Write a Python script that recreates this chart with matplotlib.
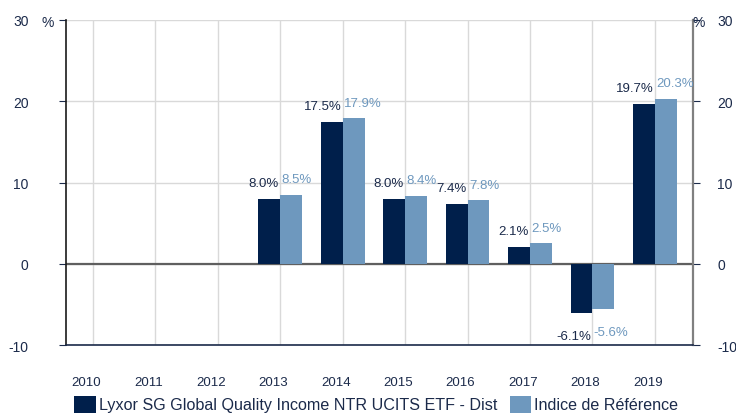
import matplotlib
matplotlib.use("Agg")
import matplotlib.pyplot as plt
from matplotlib.patches import Rectangle
from matplotlib.transforms import ScaledTranslation
import numpy as np

plt.rcParams['font.family'] = ['Liberation Sans', 'DejaVu Sans']

years = ['2010', '2011', '2012', '2013', '2014', '2015', '2016', '2017', '2018', '2019']
fund = [None, None, None, 8.0, 17.5, 8.0, 7.4, 2.1, -6.1, 19.7]
index = [None, None, None, 8.5, 17.9, 8.4, 7.8, 2.5, -5.6, 20.3]
series_names = ['Lyxor SG Global Quality Income NTR UCITS ETF - Dist', 'Indice de Référence']
yticks = [-10, 0, 10, 20, 30]

dark = '#001F4B'
light = '#6E98BE'
txt = '#1B2A4A'

W, H = 736, 414
fig = plt.figure(figsize=(W / 100, H / 100), dpi=100)
left, right, top, bottom = 66, 693, 21, 346
ax = fig.add_axes([left / W, 1 - bottom / H, (right - left) / W, (bottom - top) / H])

x = np.arange(len(years))
bw = 0.35
for i, (f, r) in enumerate(zip(fund, index)):
    if f is not None:
        ax.bar(x[i] - bw / 2, f, bw, color=dark, zorder=3)
        off = 7 if f >= 0 else -12
        ax.annotate(f"{f:.1f}%", (x[i], f), xytext=(-1, off), textcoords='offset points',
                    ha='right', va='bottom' if f >= 0 else 'top', fontsize=9.5, color=txt, zorder=4)
    if r is not None:
        ax.bar(x[i] + bw / 2, r, bw, color=light, zorder=3)
        off = 7 if r >= 0 else -12
        ax.annotate(f"{r:.1f}%", (x[i], r), xytext=(1, off), textcoords='offset points',
                    ha='left', va='bottom' if r >= 0 else 'top', fontsize=9.5, color=light, zorder=4)

ax.set_xlim(-0.43, 9.61)
ax.set_ylim(-10, 30)
ax.set_yticks(yticks)
ax.set_yticklabels([str(v) for v in yticks], fontsize=10, color=txt)
ax.set_xticks(x)
ax.set_xticklabels(years, fontsize=9.5, color=txt)

ax.tick_params(axis='x', length=0, pad=22)
ax.tick_params(axis='y', which='both', length=5, direction='out', color=txt,
               left=True, right=True, labelleft=True, labelright=True, pad=22)
for t in ax.yaxis.get_major_ticks():
    t.label2.set_transform(t.label2.get_transform() + ScaledTranslation(-0.13, 0, fig.dpi_scale_trans))
    t.label2.set_fontsize(10)
    t.label2.set_color(txt)
for lab in ax.get_xticklabels():
    lab.set_transform(lab.get_transform() + ScaledTranslation(-0.07, 0, fig.dpi_scale_trans))

ax.grid(axis='both', color='#D9D9D9', linewidth=1.0, zorder=0)
ax.axhline(0, color='#5F5F5F', linewidth=1.6, zorder=2)

ax.spines['top'].set_visible(False)
ax.spines['left'].set_color('#1A1A1A')
ax.spines['left'].set_linewidth(1.2)
ax.spines['right'].set_color('#808080')
ax.spines['right'].set_linewidth(1.6)
ax.spines['bottom'].set_color(txt)
ax.spines['bottom'].set_linewidth(1.2)

fig.text(48 / W, 1 - 23 / H, '%', fontsize=10, color=txt, ha='center', va='center')
fig.text(699 / W, 1 - 23 / H, '%', fontsize=10, color=txt, ha='center', va='center')

# legend
fig.patches.append(Rectangle((74 / W, 0), 22 / W, (414 - 397) / H, transform=fig.transFigure,
                             facecolor=dark, edgecolor='none'))
fig.text(99 / W, 1 - 410 / H, series_names[0], fontsize=11.6, color=txt, ha='left', va='baseline')
fig.patches.append(Rectangle((510 / W, 0), 21 / W, (414 - 397) / H, transform=fig.transFigure,
                             facecolor=light, edgecolor='none'))
fig.text(534 / W, 1 - 410 / H, series_names[1], fontsize=11.6, color=txt, ha='left', va='baseline')

fig.savefig('out.png', dpi=100)
